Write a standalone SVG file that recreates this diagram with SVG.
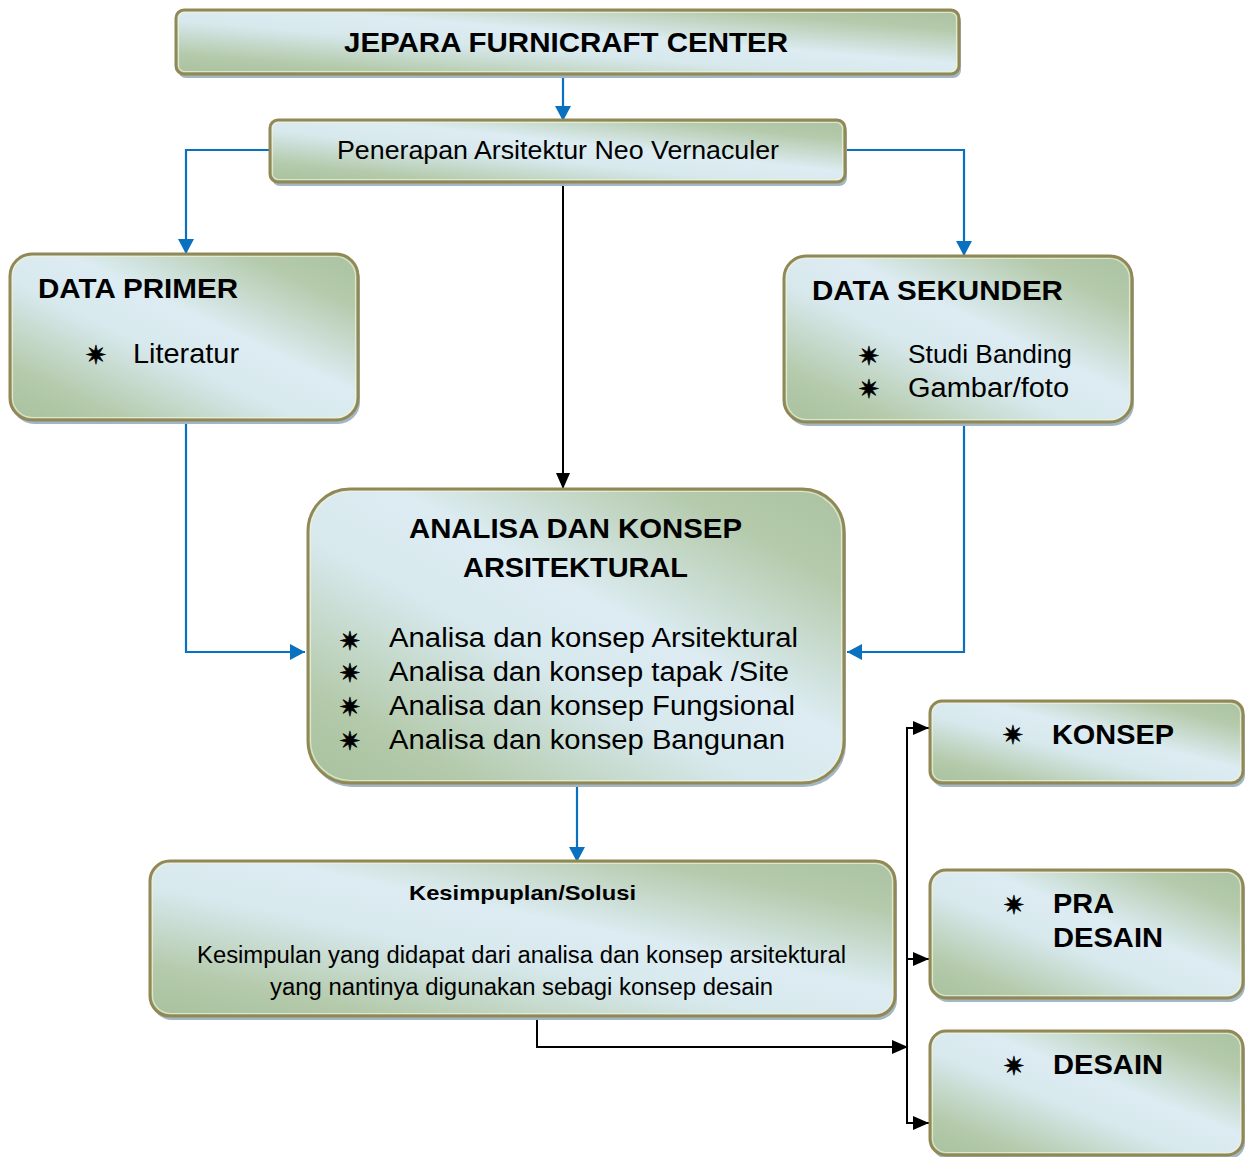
<svg xmlns="http://www.w3.org/2000/svg" width="1250" height="1157" viewBox="0 0 1250 1157">
  <defs>
    <!-- diagonal sage / pale-blue fill used by every box -->
    <linearGradient id="sage" x1="0" y1="1" x2="1" y2="0">
      <stop offset="0" stop-color="#a8c19e"/>
      <stop offset="0.16" stop-color="#b4caab"/>
      <stop offset="0.42" stop-color="#d8e9ee"/>
      <stop offset="0.58" stop-color="#dcecf2"/>
      <stop offset="0.84" stop-color="#b4caab"/>
      <stop offset="1" stop-color="#abc3a2"/>
    </linearGradient>
    <marker id="arrBlue" markerUnits="userSpaceOnUse" markerWidth="16" markerHeight="16" refX="15" refY="8" orient="auto">
      <path d="M0,0 L15,8 L0,16 z" fill="#0a70c0"/>
    </marker>
    <marker id="arrBlack" markerUnits="userSpaceOnUse" markerWidth="17" markerHeight="14" refX="16" refY="7" orient="auto">
      <path d="M0,0 L16,7 L0,14 z" fill="#000"/>
    </marker>
    <style>
      .shadow { fill: #a2b7c5; }
      .box { fill: url(#sage); stroke: #928855; stroke-width: 3; }
      .hl { fill: none; stroke: #eef2d6; stroke-width: 1.2; opacity: 0.75; }
      .t { font-family: "Liberation Sans", Arial, sans-serif; fill: #000; }
      .b { font-weight: bold; }
      .bul { font-family: "DejaVu Sans", sans-serif; font-size: 26px; fill: #000; stroke: #000; stroke-width: 0.6; text-anchor: middle; }
      .blue { fill: none; stroke: #0a70c0; stroke-width: 2.2; }
      .black { fill: none; stroke: #000; stroke-width: 2; }
    </style>
  </defs>

  <!-- connectors -->
  <g id="connectors">
    <path class="blue" d="M563,74 V121" marker-end="url(#arrBlue)"/>
    <path class="blue" d="M270,150 H186 V254" marker-end="url(#arrBlue)"/>
    <path class="blue" d="M845,150 H964 V256" marker-end="url(#arrBlue)"/>
    <path class="blue" d="M186,420 V652 H305" marker-end="url(#arrBlue)"/>
    <path class="blue" d="M964,422 V652 H847" marker-end="url(#arrBlue)"/>
    <path class="blue" d="M577,783 V862" marker-end="url(#arrBlue)"/>
    <path class="black" d="M563,182 V489" marker-end="url(#arrBlack)"/>
    <path class="black" d="M537,1016 V1047 H908" marker-end="url(#arrBlack)"/>
    <path class="black" d="M907,728 V1124"/>
    <path class="black" d="M906,728 H929" marker-end="url(#arrBlack)"/>
    <path class="black" d="M906,959 H929" marker-end="url(#arrBlack)"/>
    <path class="black" d="M906,1123 H929" marker-end="url(#arrBlack)"/>
  </g>

  <g id="node-jepara">
    <rect class="shadow" x="178" y="14" width="783" height="64" rx="8"/>
    <rect class="box" x="176" y="10" width="783" height="64" rx="8"/>
    <rect class="hl" x="178.5" y="12.5" width="778" height="59" rx="6"/>
    <text class="t b" x="344" y="52" font-size="28" textLength="444" lengthAdjust="spacingAndGlyphs">JEPARA FURNICRAFT CENTER</text>
  </g>

  <g id="node-penerapan">
    <rect class="shadow" x="272" y="124" width="575" height="62" rx="8"/>
    <rect class="box" x="270" y="120" width="575" height="62" rx="8"/>
    <rect class="hl" x="272.5" y="122.5" width="570" height="57" rx="6"/>
    <text class="t" x="337" y="159" font-size="25" textLength="442" lengthAdjust="spacingAndGlyphs">Penerapan Arsitektur Neo Vernaculer</text>
  </g>

  <g id="node-data-primer">
    <rect class="shadow" x="12" y="258" width="348" height="166" rx="22"/>
    <rect class="box" x="10" y="254" width="348" height="166" rx="22"/>
    <rect class="hl" x="12.5" y="256.5" width="343" height="161" rx="20"/>
    <text class="t b" x="38" y="298" font-size="28" textLength="200" lengthAdjust="spacingAndGlyphs">DATA PRIMER</text>
    <text class="bul" x="96" y="364">✷</text>
    <text class="t" x="133" y="363" font-size="28" textLength="106" lengthAdjust="spacingAndGlyphs">Literatur</text>
  </g>

  <g id="node-data-sekunder">
    <rect class="shadow" x="786" y="260" width="348" height="166" rx="22"/>
    <rect class="box" x="784" y="256" width="348" height="166" rx="22"/>
    <rect class="hl" x="786.5" y="258.5" width="343" height="161" rx="20"/>
    <text class="t b" x="812" y="300" font-size="28" textLength="251" lengthAdjust="spacingAndGlyphs">DATA SEKUNDER</text>
    <text class="bul" x="869" y="365">✷</text>
    <text class="t" x="908" y="363" font-size="26" textLength="164" lengthAdjust="spacingAndGlyphs">Studi Banding</text>
    <text class="bul" x="869" y="398">✷</text>
    <text class="t" x="908" y="397" font-size="27" textLength="161" lengthAdjust="spacingAndGlyphs">Gambar/foto</text>
  </g>

  <g id="node-analisa">
    <rect class="shadow" x="310" y="493" width="536" height="294" rx="42"/>
    <rect class="box" x="308" y="489" width="536" height="294" rx="42"/>
    <rect class="hl" x="310.5" y="491.5" width="531" height="289" rx="40"/>
    <text class="t b" x="409" y="538" font-size="28" textLength="333" lengthAdjust="spacingAndGlyphs">ANALISA DAN KONSEP</text>
    <text class="t b" x="463" y="577" font-size="28" textLength="225" lengthAdjust="spacingAndGlyphs">ARSITEKTURAL</text>
    <text class="bul" x="350" y="650">✷</text>
    <text class="t" x="389" y="647" font-size="27" textLength="409" lengthAdjust="spacingAndGlyphs">Analisa dan konsep Arsitektural</text>
    <text class="bul" x="350" y="682">✷</text>
    <text class="t" x="389" y="681" font-size="27" textLength="400" lengthAdjust="spacingAndGlyphs">Analisa dan konsep tapak /Site</text>
    <text class="bul" x="350" y="716">✷</text>
    <text class="t" x="389" y="715" font-size="27" textLength="406" lengthAdjust="spacingAndGlyphs">Analisa dan konsep Fungsional</text>
    <text class="bul" x="350" y="750">✷</text>
    <text class="t" x="389" y="749" font-size="27" textLength="396" lengthAdjust="spacingAndGlyphs">Analisa dan konsep Bangunan</text>
  </g>

  <g id="node-kesimpulan">
    <rect class="shadow" x="152" y="865" width="745" height="155" rx="20"/>
    <rect class="box" x="150" y="861" width="745" height="155" rx="20"/>
    <rect class="hl" x="152.5" y="863.5" width="740" height="150" rx="18"/>
    <text class="t b" x="409" y="900" font-size="21" textLength="227" lengthAdjust="spacingAndGlyphs">Kesimpuplan/Solusi</text>
    <text class="t" x="197" y="963" font-size="23" textLength="649" lengthAdjust="spacingAndGlyphs">Kesimpulan yang didapat dari analisa dan konsep arsitektural</text>
    <text class="t" x="270" y="995" font-size="23" textLength="503" lengthAdjust="spacingAndGlyphs">yang nantinya digunakan sebagi konsep desain</text>
  </g>

  <g id="node-konsep">
    <rect class="shadow" x="932" y="705" width="313" height="82" rx="12"/>
    <rect class="box" x="930" y="701" width="313" height="82" rx="12"/>
    <rect class="hl" x="932.5" y="703.5" width="308" height="77" rx="10"/>
    <text class="bul" x="1013" y="744">✷</text>
    <text class="t b" x="1052" y="744" font-size="28" textLength="122" lengthAdjust="spacingAndGlyphs">KONSEP</text>
  </g>

  <g id="node-pra-desain">
    <rect class="shadow" x="932" y="874" width="313" height="128" rx="16"/>
    <rect class="box" x="930" y="870" width="313" height="128" rx="16"/>
    <rect class="hl" x="932.5" y="872.5" width="308" height="123" rx="14"/>
    <text class="bul" x="1014" y="914">✷</text>
    <text class="t b" x="1053" y="913" font-size="28" textLength="61" lengthAdjust="spacingAndGlyphs">PRA</text>
    <text class="t b" x="1053" y="947" font-size="28" textLength="110" lengthAdjust="spacingAndGlyphs">DESAIN</text>
  </g>

  <g id="node-desain">
    <rect class="shadow" x="932" y="1035" width="313" height="124" rx="16"/>
    <rect class="box" x="930" y="1031" width="313" height="124" rx="16"/>
    <rect class="hl" x="932.5" y="1033.5" width="308" height="119" rx="14"/>
    <text class="bul" x="1014" y="1075">✷</text>
    <text class="t b" x="1053" y="1074" font-size="28" textLength="110" lengthAdjust="spacingAndGlyphs">DESAIN</text>
  </g>
</svg>
